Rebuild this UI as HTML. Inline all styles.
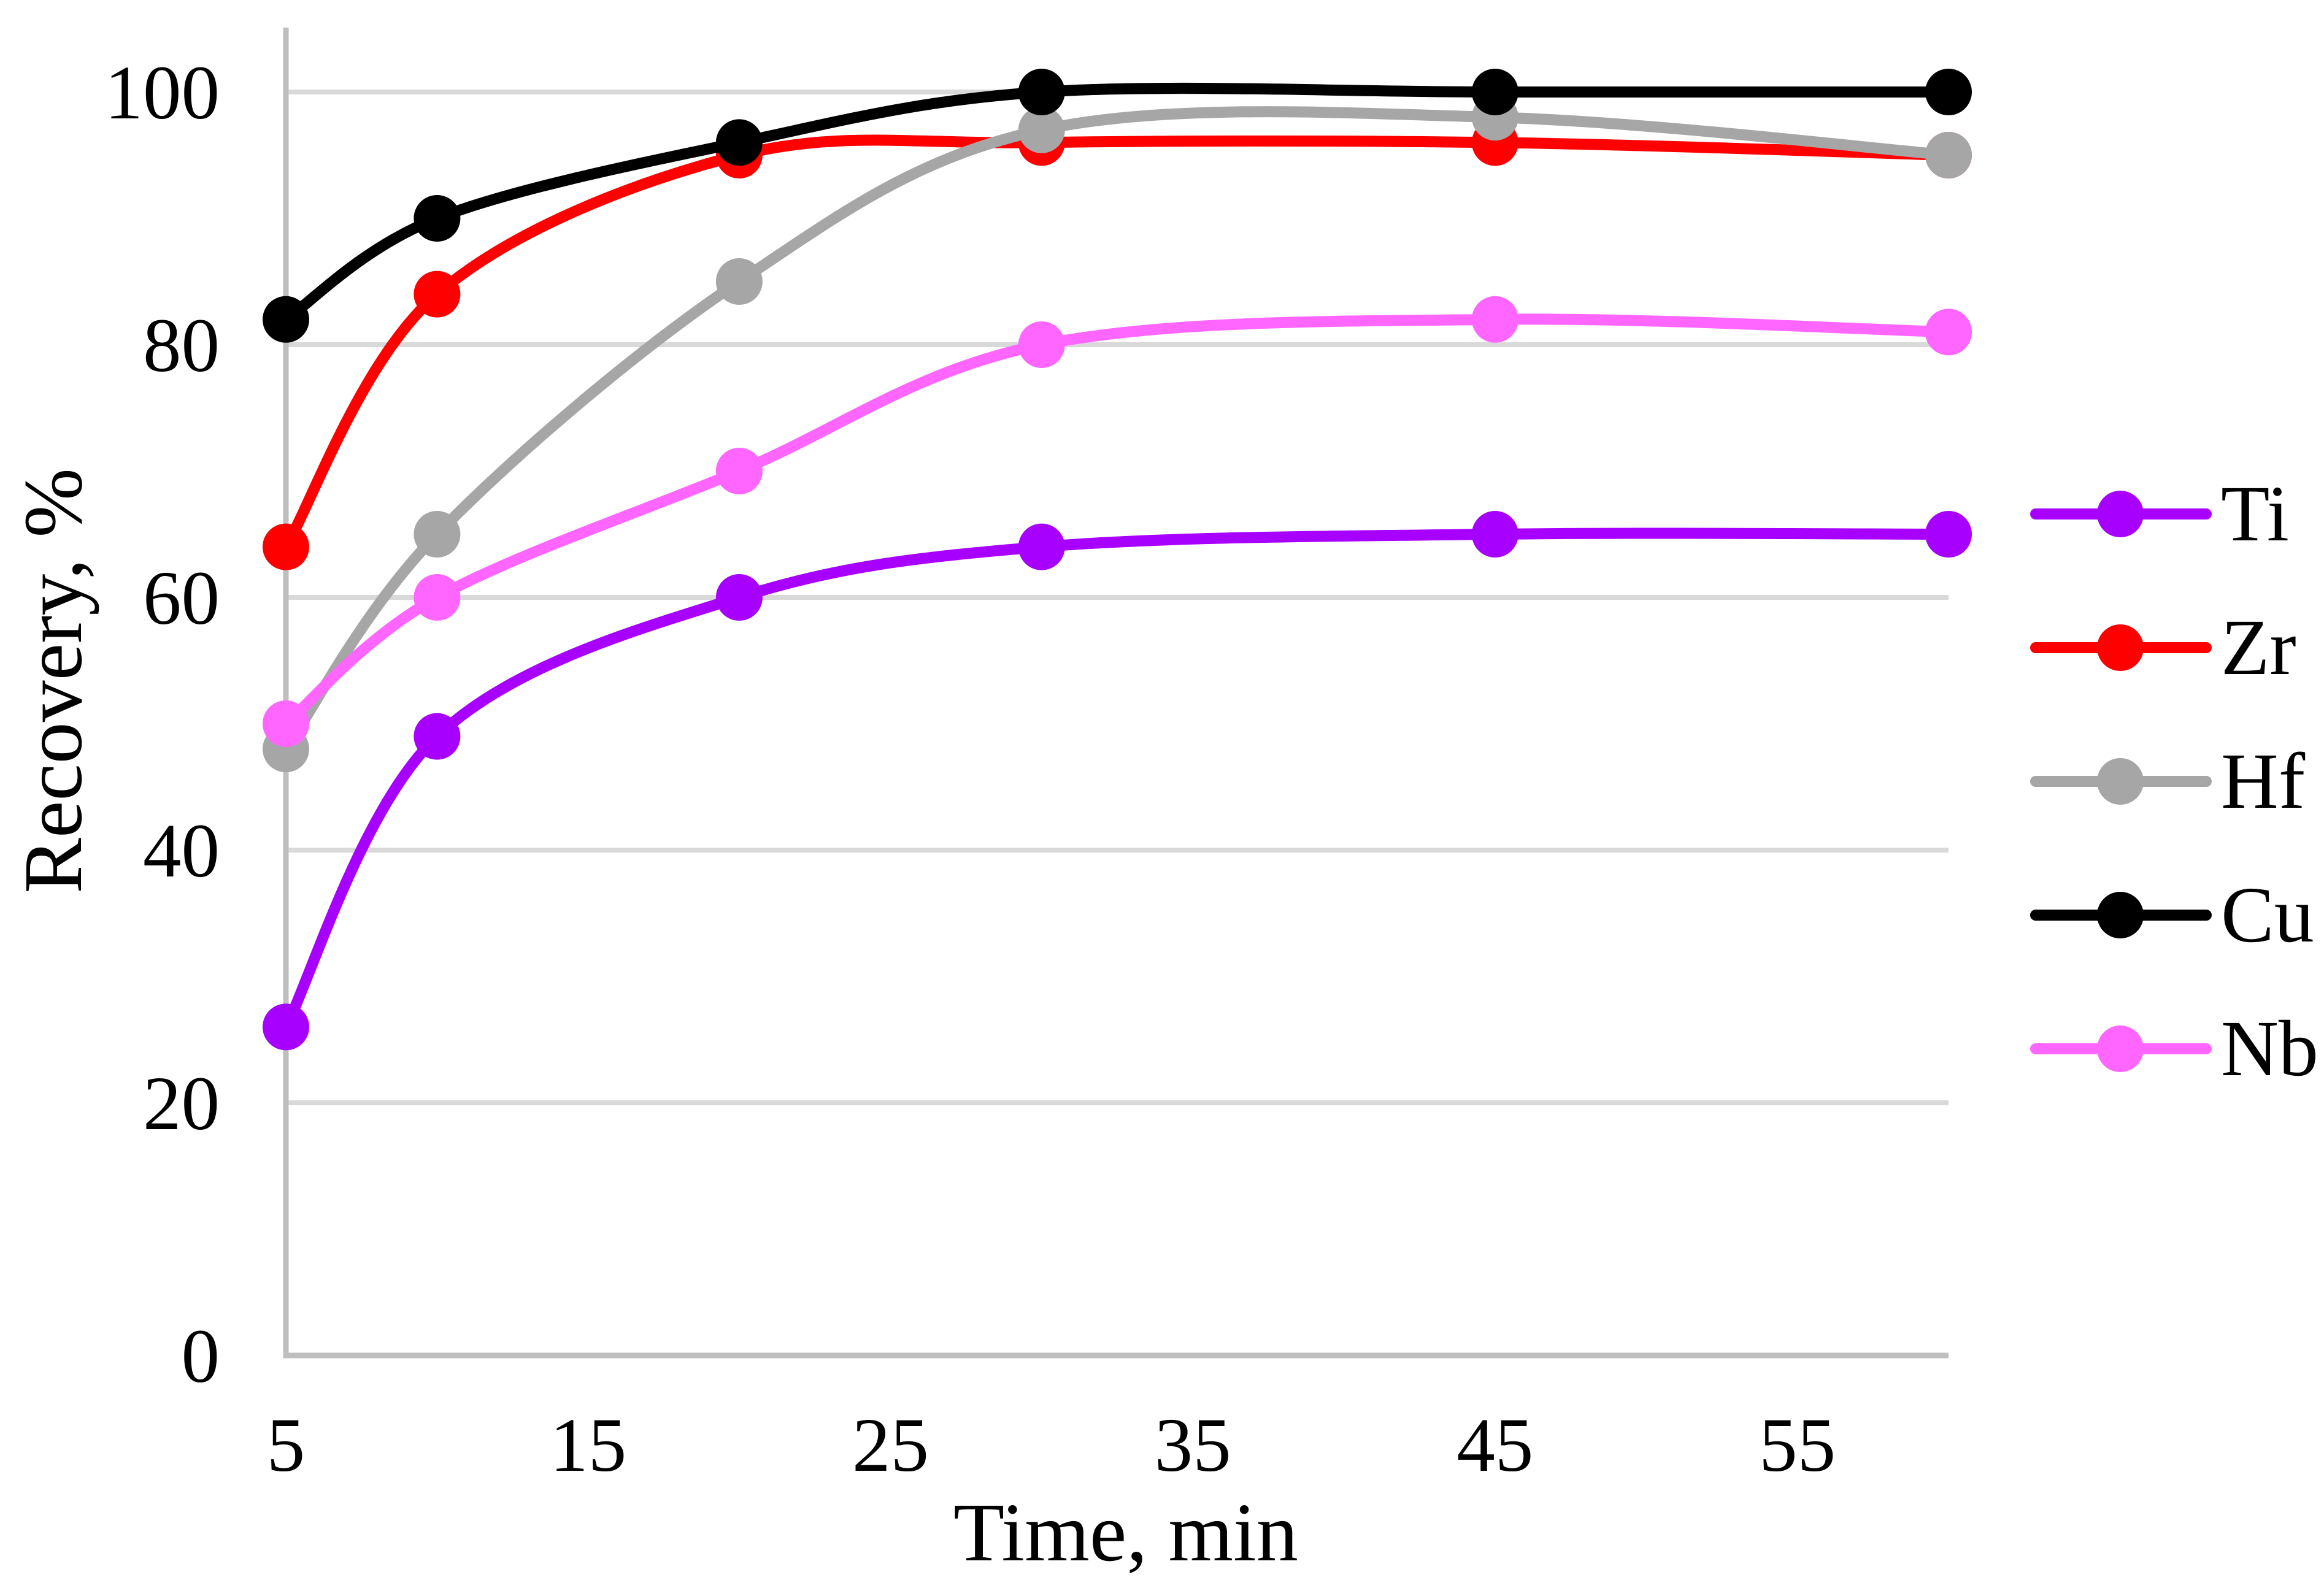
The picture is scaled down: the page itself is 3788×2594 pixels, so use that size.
<!DOCTYPE html>
<html>
<head>
<meta charset="utf-8">
<style>
  html, body { margin: 0; padding: 0; background: #ffffff; }
  svg { display: block; }
  text { font-family: "Liberation Serif", "Times New Roman", serif; fill: #000; }
</style>
</head>
<body>
<svg width="3788" height="2594" viewBox="0 0 3788 2594" xmlns="http://www.w3.org/2000/svg">
  <rect x="0" y="0" width="3788" height="2594" fill="#ffffff"/>

  <!-- gridlines -->
  <g stroke="#D9D9D9" stroke-width="8">
    <line x1="466" y1="150" x2="3176" y2="150"/>
    <line x1="466" y1="562" x2="3176" y2="562"/>
    <line x1="466" y1="974" x2="3176" y2="974"/>
    <line x1="466" y1="1386" x2="3176" y2="1386"/>
    <line x1="466" y1="1798" x2="3176" y2="1798"/>
  </g>
  <!-- axes -->
  <g stroke="#BFBFBF" stroke-width="9">
    <line x1="466" y1="45" x2="466" y2="2214"/>
    <line x1="462" y1="2210" x2="3176" y2="2210"/>
  </g>

  <!-- y tick labels -->
  <g font-size="125" text-anchor="end">
    <text x="358" y="193">100</text>
    <text x="358" y="605">80</text>
    <text x="358" y="1017">60</text>
    <text x="358" y="1429">40</text>
    <text x="358" y="1841">20</text>
    <text x="358" y="2253">0</text>
  </g>
  <!-- x tick labels -->
  <g font-size="125" text-anchor="middle">
    <text x="466" y="2398">5</text>
    <text x="958.7" y="2398">15</text>
    <text x="1451.5" y="2398">25</text>
    <text x="1944.2" y="2398">35</text>
    <text x="2436.9" y="2398">45</text>
    <text x="2929.6" y="2398">55</text>
  </g>

  <!-- axis titles -->
  <text x="1835" y="2544" font-size="136" text-anchor="middle">Time, min</text>
  <text transform="translate(132,1110) rotate(-90)" x="0" y="0" font-size="136" text-anchor="middle">Recovery, %</text>

  <!-- Series: Ti -->
  <g fill="none" stroke-width="18" stroke-linecap="round" stroke-linejoin="round">
    <path stroke="#A800FF" d="M466,1674.4 C507.1,1595.4 589.2,1317.3 712.4,1200.6 C835.6,1083.9 1040.7,1025.5 1204.9,974 C1369.1,922.5 1492.5,908.8 1697.8,891.6 C1903.1,874.4 2190.5,874.4 2436.9,871 C2683.3,867.6 3052.8,871 3176,871"/>
  </g>
  <g fill="#A800FF">
    <circle cx="466" cy="1674.4" r="38"/>
    <circle cx="712.4" cy="1200.6" r="38"/>
    <circle cx="1204.9" cy="974" r="38"/>
    <circle cx="1697.8" cy="891.6" r="38"/>
    <circle cx="2436.9" cy="871" r="38"/>
    <circle cx="3176" cy="871" r="38"/>
  </g>

  <!-- Series: Zr -->
  <g fill="none" stroke-width="18" stroke-linecap="round" stroke-linejoin="round">
    <path stroke="#FF0000" d="M466,891.6 C507.1,822.9 589.2,586 712.4,479.6 C835.6,373.2 1040.7,294.2 1204.9,253 C1369.1,211.8 1492.5,235.8 1697.8,232.4 C1903.1,229 2190.5,229 2436.9,232.4 C2683.3,235.8 3052.8,249.6 3176,253"/>
  </g>
  <g fill="#FF0000">
    <circle cx="466" cy="891.6" r="38"/>
    <circle cx="712.4" cy="479.6" r="38"/>
    <circle cx="1204.9" cy="253" r="38"/>
    <circle cx="1697.8" cy="232.4" r="38"/>
    <circle cx="2436.9" cy="232.4" r="38"/>
    <circle cx="3176" cy="253" r="38"/>
  </g>

  <!-- Series: Hf -->
  <g fill="none" stroke-width="18" stroke-linecap="round" stroke-linejoin="round">
    <path stroke="#A6A6A6" d="M466,1221.2 C507.1,1162.8 589.2,998 712.4,871 C835.6,744 1040.7,568.9 1204.9,459 C1369.1,349.1 1492.5,256.4 1697.8,211.8 C1903.1,167.2 2190.5,184.3 2436.9,191.2 C2683.3,198.1 3052.8,242.7 3176,253"/>
  </g>
  <g fill="#A6A6A6">
    <circle cx="466" cy="1221.2" r="38"/>
    <circle cx="712.4" cy="871" r="38"/>
    <circle cx="1204.9" cy="459" r="38"/>
    <circle cx="1697.8" cy="211.8" r="38"/>
    <circle cx="2436.9" cy="191.2" r="38"/>
    <circle cx="3176" cy="253" r="38"/>
  </g>

  <!-- Series: Cu -->
  <g fill="none" stroke-width="18" stroke-linecap="round" stroke-linejoin="round">
    <path stroke="#000000" d="M466,520.8 C507.1,493.3 589.2,404.1 712.4,356 C835.6,307.9 1040.7,266.7 1204.9,232.4 C1369.1,198.1 1492.5,163.7 1697.8,150 C1903.1,136.3 2190.5,150 2436.9,150 C2683.3,150 3052.8,150 3176,150"/>
  </g>
  <g fill="#000000">
    <circle cx="466" cy="520.8" r="38"/>
    <circle cx="712.4" cy="356" r="38"/>
    <circle cx="1204.9" cy="232.4" r="38"/>
    <circle cx="1697.8" cy="150" r="38"/>
    <circle cx="2436.9" cy="150" r="38"/>
    <circle cx="3176" cy="150" r="38"/>
  </g>

  <!-- Series: Nb -->
  <g fill="none" stroke-width="18" stroke-linecap="round" stroke-linejoin="round">
    <path stroke="#FF66FF" d="M466,1180 C507.1,1145.7 589.2,1042.7 712.4,974 C835.6,905.3 1040.7,836.7 1204.9,768 C1369.1,699.3 1492.5,603.2 1697.8,562 C1903.1,520.8 2190.5,524.2 2436.9,520.8 C2683.3,517.4 3052.8,537.9 3176,541.4"/>
  </g>
  <g fill="#FF66FF">
    <circle cx="466" cy="1180" r="38"/>
    <circle cx="712.4" cy="974" r="38"/>
    <circle cx="1204.9" cy="768" r="38"/>
    <circle cx="1697.8" cy="562" r="38"/>
    <circle cx="2436.9" cy="520.8" r="38"/>
    <circle cx="3176" cy="541.4" r="38"/>
  </g>

  <!-- Legend -->
  <g stroke-width="18" stroke-linecap="round">
    <line x1="3318" y1="838" x2="3596" y2="838" stroke="#A800FF"/>
    <line x1="3318" y1="1056" x2="3596" y2="1056" stroke="#FF0000"/>
    <line x1="3318" y1="1274" x2="3596" y2="1274" stroke="#A6A6A6"/>
    <line x1="3318" y1="1492" x2="3596" y2="1492" stroke="#000000"/>
    <line x1="3318" y1="1710" x2="3596" y2="1710" stroke="#FF66FF"/>
  </g>
  <circle cx="3456" cy="838" r="38" fill="#A800FF"/>
  <circle cx="3456" cy="1056" r="38" fill="#FF0000"/>
  <circle cx="3456" cy="1274" r="38" fill="#A6A6A6"/>
  <circle cx="3456" cy="1492" r="38" fill="#000000"/>
  <circle cx="3456" cy="1710" r="38" fill="#FF66FF"/>
  <g font-size="130">
    <text x="3620" y="881">Ti</text>
    <text x="3620" y="1099">Zr</text>
    <text x="3620" y="1317">Hf</text>
    <text x="3620" y="1535">Cu</text>
    <text x="3620" y="1753">Nb</text>
  </g>
</svg>
</body>
</html>
